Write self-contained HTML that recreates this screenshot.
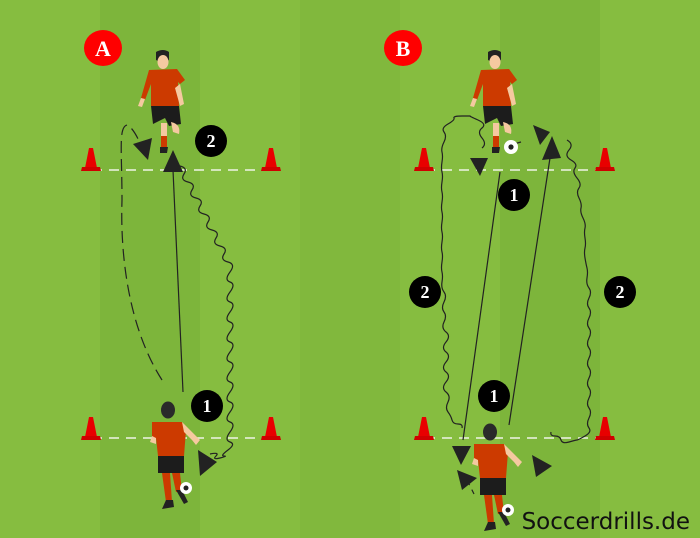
<!DOCTYPE html>
<html><head><meta charset="utf-8"><style>
html,body{margin:0;padding:0;width:700px;height:538px;overflow:hidden;background:#86bd40}
svg{display:block}
</style></head><body>
<svg width="700" height="538" viewBox="0 0 700 538" xmlns="http://www.w3.org/2000/svg">
<defs>
<g id="pt">
 <path d="M-7,-8 q7,-4 13,0 l0,8 q-6,4 -13,0z" fill="#222"/>
 <ellipse cx="0" cy="2" rx="5.5" ry="7" fill="#f5c9a0"/>
 <path d="M-14,10 L14,9 L22,20 L17,24 L15,22 L16,46 L-12,46 L-12,24 L-18,40 L-22,38 z" fill="#cc3a00"/>
 <path d="M-22,38 l-3,8 l4,1 l3,-8z M17,24 l4,20 l-4,2 l-5,-18z" fill="#f5c9a0"/>
 <path d="M-12,46 L16,46 L18,64 L6,66 L2,58 L-10,64z" fill="#1c1c1c"/>
 <path d="M-2,63 L4,63 L4,78 L-2,78z" fill="#f5c9a0"/>
 <path d="M-2,76 L4,76 L4,88 L-2,88z" fill="#cc3a00"/>
 <path d="M-3,87 L5,87 L4,93 L-3,93z" fill="#222"/>
 <path d="M8,62 q10,2 8,12 l-6,-2z" fill="#f5c9a0"/>
</g>
<g id="pb">
 <ellipse cx="0" cy="0" rx="7" ry="8.5" fill="#2a2a2a"/>
 <path d="M-16,12 L14,12 L18,20 L16,46 L-10,46 L-12,28 L-16,28z" fill="#cc3a00"/>
 <path d="M14,12 L28,26 L32,30 L28,35 L24,30 L16,22z" fill="#f5c9a0"/>
 <path d="M-16,26 L-18,32 L-12,34 L-12,28z" fill="#f5c9a0"/>
 <path d="M-10,46 L16,46 L16,63 L-10,63z" fill="#1c1c1c"/>
 <path d="M-6,63 L2,63 L4,92 L-2,92z" fill="#cc3a00"/>
 <path d="M-2,90 L5,90 L6,97 L-6,99z" fill="#222"/>
 <path d="M4,63 L12,63 L14,82 L8,82z" fill="#cc3a00"/>
 <path d="M8,80 L14,80 L20,92 L16,94z" fill="#222"/>
 <circle cx="18" cy="78" r="6" fill="#fff"/>
 <circle cx="18" cy="78" r="2.5" fill="#222"/>
</g>
<g id="cone"><path d="M-2,-16 L2,-16 L6,4 L-6,4z" fill="#e80000"/><path d="M-9,3 L9,3 L10,7 L-10,7z" fill="#d00000"/></g>
</defs>
<rect width="700" height="538" fill="#86bd40"/>
<rect x="100" width="100" height="538" fill="#7db53b"/>
<rect x="300" width="100" height="538" fill="#81b83d"/>
<rect x="500" width="100" height="538" fill="#7db53b"/>

<g stroke="#eef3e6" stroke-width="1.6" stroke-dasharray="10,7" fill="none">
 <line x1="92" y1="170" x2="272" y2="170"/>
 <line x1="92" y1="438" x2="272" y2="438"/>
 <line x1="425" y1="170" x2="605" y2="170"/>
 <line x1="425" y1="438" x2="605" y2="438"/>
</g>
<use href="#cone" x="91" y="164"/><use href="#cone" x="271" y="164"/>
<use href="#cone" x="91" y="433"/><use href="#cone" x="271" y="433"/>
<use href="#cone" x="424" y="164"/><use href="#cone" x="605" y="164"/>
<use href="#cone" x="424" y="433"/><use href="#cone" x="605" y="433"/>

<g stroke="#222" stroke-width="1.2" fill="none">
 <line x1="183" y1="392" x2="173" y2="170"/>
 <path d="M162,380 C130,330 120,260 122,200 C122,150 118,125 128,125 C134,130 138,138 142,148" stroke-dasharray="12,6"/>
 <path d="M180,166 q8,2 4,8 t4,8 t4,8 t4,8 t4,8 t4,8 t4,8 t4,8 t4,8 t4,8 t4,8 t4,8 t2,10 t0,10 t0,10 t0,10 t0,10 t0,10 t0,10 t0,10 t0,10 t0,10 t0,10 t0,10 t0,10 t0,10 t0,10 t0,10 t0,10 t0,10 t-2,8 t-4,6 t-4,2 t-4,-2 t-6,-2"/>
</g>
<path d="M173,150 L163,172 L183,172z" fill="#222"/>
<path d="M133,144 L152,138 L148,160z" fill="#222"/>
<path d="M198,450 L200,476 L217,462z" fill="#222"/>

<g stroke="#222" stroke-width="1.2" fill="none">
 <line x1="500" y1="172" x2="463" y2="440"/>
 <line x1="509" y1="425" x2="550" y2="158"/>
 <path d="M466,478 l8,16" stroke-dasharray="8,5"/>
 <path d="M510,145 L521,142" />
 <path d="M482,148 q5,-4 0,-10 t0,-10 t-4,-8 t-8,-4 t-8,0 t-8,2 t-6,6 t-4,8 t0,10 t-2,10 t0,10 t0,10 t0,10 t0,10 t0,10 t0,10 t0,10 t0,10 t0,10 t0,10 t0,10 t0,10 t0,10 t2,10 t0,10 t0,10 t0,10 t2,10 t0,10 t0,10 t0,10 t0,10 t0,10 t0,10 t2,10 t0,10 t4,8 t6,4 t4,4"/>
 <path d="M567,140 q7,4 2,10 t2,10 t4,8 t2,10 t2,10 t0,10 t2,10 t2,10 t2,10 t0,10 t0,10 t0,10 t2,10 t0,10 t2,10 t0,10 t0,10 t0,10 t0,10 t0,10 t0,10 t0,10 t0,10 t0,10 t0,10 t0,10 t0,10 t0,10 t0,10 t-4,8 t-8,4 t-8,2 t-8,-2 t-6,-4 t-4,-4"/>
</g>
<path d="M470,158 L488,158 L480,176z" fill="#222"/>
<path d="M552,136 L542,160 L561,158z" fill="#222"/>
<path d="M533,125 L550,132 L540,145z" fill="#222"/>
<path d="M452,446 L471,446 L461,465z" fill="#222"/>
<path d="M457,470 L462,490 L477,478z" fill="#222"/>
<path d="M532,455 L536,477 L552,466z" fill="#222"/>

<use href="#pt" x="163" y="60"/>
<use href="#pt" x="495" y="60"/>
<circle cx="511" cy="147" r="7" fill="#fff"/><circle cx="511" cy="147" r="2.6" fill="#222"/>
<use href="#pb" x="168" y="410"/>
<use href="#pb" x="490" y="432"/>

<g font-family="Liberation Serif, serif" font-weight="bold" text-anchor="middle">
 <ellipse cx="103" cy="48" rx="19" ry="18" fill="#f00"/><text x="103" y="56" font-size="22" fill="#fff">A</text>
 <ellipse cx="403" cy="48" rx="19" ry="18" fill="#f00"/><text x="403" y="56" font-size="22" fill="#fff">B</text>
 <g fill="#000">
  <circle cx="211" cy="141" r="16"/><circle cx="207" cy="406" r="16"/>
  <circle cx="514" cy="195" r="16"/><circle cx="425" cy="292" r="16"/>
  <circle cx="620" cy="292" r="16"/><circle cx="494" cy="396" r="16"/>
 </g>
 <g fill="#fff" font-size="18">
  <text x="211" y="147">2</text><text x="207" y="412">1</text>
  <text x="514" y="201">1</text><text x="425" y="298">2</text>
  <text x="620" y="298">2</text><text x="494" y="402">1</text>
 </g>
</g>
<text x="690" y="529" text-anchor="end" font-family="DejaVu Sans, sans-serif" font-size="23" fill="#111">Soccerdrills.de</text>
</svg>
</body></html>
